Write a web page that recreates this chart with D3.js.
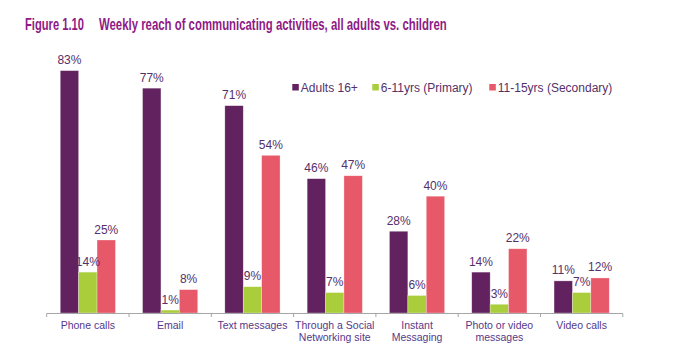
<!DOCTYPE html>
<meta charset="utf-8">
<html>
<head>
  <title>Weekly reach of communicating activities</title>
  <script src="https://d3js.org/d3.v7.min.js"></script>
  <style>
    body { margin: 0; background: #fff; }
    svg text { font-family: "Liberation Sans", Arial, sans-serif; }
    .title { font-weight: bold; font-size: 16px; fill: #8e1a86; }
    .val { font-size: 12px; fill: #55306a; text-anchor: middle; }
    .cat { font-size: 10.5px; fill: #55388a; text-anchor: middle; }
    .leg { font-size: 12px; fill: #55306a; }
  </style>
</head>
<body>
  <svg id="svg" width="673" height="353"></svg>
  <script>
    // data
    var categories = ["Phone calls", "Email", "Text messages", "Through a Social|Networking site",
      "Instant|Messaging", "Photo or video|messages", "Video calls"];
    var seriesNames = ["Adults 16+", "6-11yrs (Primary)", "11-15yrs (Secondary)"];
    var adults = [83, 77, 71, 46, 28, 14, 11];
    var primary = [14, 1, 9, 7, 6, 3, 7];
    var secondary = [25, 8, 54, 47, 40, 22, 12];
    var colors = ["#62225f", "#a9cd3b", "#e75869"];

    var values = [adults, primary, secondary];

    var svg = d3.select("#svg");

    var x = d3.scaleBand()
      .domain(categories)
      .range([46.7, 622.8]);

    var bw = x.bandwidth();
    var barW = 18.4;
    var xs = d3.scaleBand()
      .domain(seriesNames)
      .range([0, bw])
      .paddingInner(0)
      .paddingOuter((bw - barW * 3) / 2 / barW);

    var y = d3.scaleLinear()
      .domain([0, 100])
      .range([313, 21]);

    // title: the original uses a narrow face, so squeeze horizontally
    function titleText(str, x0, width) {
      var t = svg.append("text")
        .attr("class", "title")
        .attr("x", 0)
        .attr("y", 0)
        .text(str);
      var k = width / t.node().getComputedTextLength();
      t.attr("transform", "translate(" + x0 + ",29.5) scale(" + k + ",1)");
    }
    titleText("Figure 1.10", 25, 59);
    titleText("Weekly reach of communicating activities, all adults vs. children", 99, 348);

    // bars
    var groups = svg.append("g").selectAll("g")
      .data(seriesNames)
      .enter()
      .append("g")
      .attr("fill", function (d, i) { return colors[i]; });

    groups.each(function (s, si) {
      var g = d3.select(this);
      g.selectAll("rect")
        .data(values[si])
        .enter()
        .append("rect")
        .attr("x", function (d, i) { return x(categories[i]) + xs(s); })
        .attr("y", function (d) { return y(d); })
        .attr("width", xs.bandwidth())
        .attr("height", function (d) { return y(0) - y(d); })
        .attr("stroke", "#fff")
        .attr("stroke-opacity", 0.5)
        .attr("stroke-width", 0.6);
    });

    // value labels
    groups.each(function (s, si) {
      svg.append("g").selectAll("text")
        .data(values[si])
        .enter()
        .append("text")
        .attr("class", "val")
        .attr("x", function (d, i) { return x(categories[i]) + xs(s) + xs.bandwidth() / 2; })
        .attr("y", function (d) { return y(d) - 6.5; })
        .text(function (d) { return d + "%"; });
    });

    // axis
    var axis = svg.append("g").attr("stroke", "#a6a6a6").attr("stroke-width", 1);
    axis.append("line")
      .attr("x1", x.range()[0]).attr("x2", x.range()[1])
      .attr("y1", y(0) + 0.5).attr("y2", y(0) + 0.5);
    axis.selectAll("line.tick")
      .data(categories.concat(["end"]))
      .enter()
      .append("line")
      .attr("class", "tick")
      .attr("x1", function (d, i) { return x.range()[0] + i * bw; })
      .attr("x2", function (d, i) { return x.range()[0] + i * bw; })
      .attr("y1", y(0) + 0.5)
      .attr("y2", y(0) + 4);

    // category labels
    svg.append("g").selectAll("text")
      .data(categories)
      .enter()
      .append("text")
      .attr("class", "cat")
      .attr("x", function (d) { return x(d) + bw / 2; })
      .attr("y", 329)
      .each(function (d) {
        var t = d3.select(this);
        d.split("|").forEach(function (line, k) {
          t.append("tspan")
            .attr("x", x(d) + bw / 2)
            .attr("dy", k === 0 ? 0 : 12)
            .text(line);
        });
      });

    // legend
    var legX = [292.3, 372.3, 489.3];
    var leg = svg.append("g").selectAll("g")
      .data(seriesNames)
      .enter()
      .append("g")
      .attr("transform", function (d, i) { return "translate(" + legX[i] + ", 84)"; });
    leg.append("rect")
      .attr("width", 6.5)
      .attr("height", 6.5)
      .attr("fill", function (d, i) { return colors[i]; });
    leg.append("text")
      .attr("class", "leg")
      .attr("x", 8.5)
      .attr("y", 7.5)
      .text(function (d) { return d; });
  </script>
</body>
</html>
